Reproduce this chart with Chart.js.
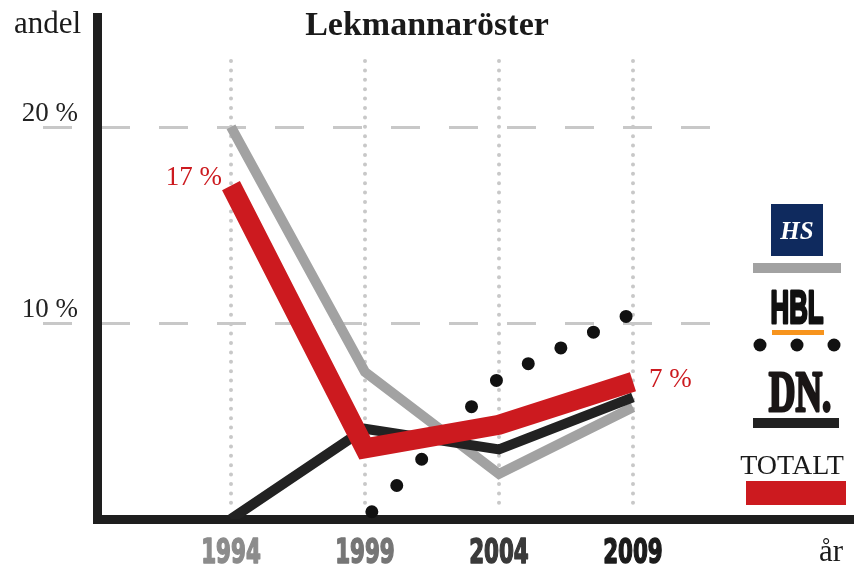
<!DOCTYPE html>
<html lang="sv">
<head>
<meta charset="UTF-8">
<title>Lekmannaröster</title>
<script src="https://cdn.jsdelivr.net/npm/chart.js@4.4.0/dist/chart.umd.min.js"></script>
<style>
    body { margin: 0; background: #fff; }
    #wrap { width: 854px; height: 569px; }
</style>
</head>
<body>
<div id="wrap"><canvas id="chart" width="854" height="569"></canvas></div>
<script>
    // data (andel in %)
    const years = [1994, 1999, 2004, 2009];
    const hsValues = [20, 7.5, 2.3, 5.7];
    const dnValues = [0, 4.6, 3.55, 6.2];
    const totalValues = [17, 3.6, 4.8, 7];
    const hblYears = [1999, 2004, 2009];
    const hblValues = [0, 7.2, 10.5];
    const yTicks = [10, 20];
    const yearColors = ['#8c8c8c', '#767676', '#3a3a3a', '#1c1c1c'];

    const SERIF = '"Liberation Serif", "DejaVu Serif", serif';
    const NARROW = '"DejaVu Sans Condensed", "Liberation Sans", sans-serif';
    const RED = '#cc1a1f';

    const toPoints = (xs, ys) => xs.map((x, i) => ({ x: x, y: ys[i] }));

    // squeezed text, for the condensed newspaper-style lettering
    function narrowText(ctx, text, x, y, sx, font, stroke) {
        ctx.save();
        ctx.translate(x, y);
        ctx.scale(sx, 1);
        ctx.font = font;
        ctx.fillText(text, 0, 0);
        if (stroke) {
            ctx.lineWidth = stroke;
            ctx.strokeStyle = ctx.fillStyle;
            ctx.lineJoin = 'round';
            ctx.strokeText(text, 0, 0);
        }
        ctx.restore();
    }

    // dotted / dashed guide lines under everything
    const guides = {
        id: 'guides',
        beforeDraw(chart) {
            const ctx = chart.ctx, xs = chart.scales.x, ys = chart.scales.y;
            ctx.save();
            ctx.strokeStyle = '#c8c8c8';
            ctx.lineWidth = 3;
            ctx.setLineDash([29, 29]);
            yTicks.forEach(v => {
                const y = Math.round(ys.getPixelForValue(v)) + 0.5;
                ctx.beginPath();
                ctx.moveTo(43, y);
                ctx.lineTo(712, y);
                ctx.stroke();
            });
            ctx.lineWidth = 4;
            ctx.lineCap = 'round';
            ctx.setLineDash([0, 9.4]);
            years.forEach(yr => {
                const x = Math.round(xs.getPixelForValue(yr));
                ctx.beginPath();
                ctx.moveTo(x, 61);
                ctx.lineTo(x, chart.chartArea.bottom - 8);
                ctx.stroke();
            });
            ctx.restore();
        }
    };

    // title, axis words, year labels, value labels and the logo legend
    const texts = {
        id: 'texts',
        afterDraw(chart) {
            const ctx = chart.ctx, xs = chart.scales.x;
            ctx.save();
            ctx.fillStyle = '#1a1a1a';
            ctx.textBaseline = 'alphabetic';

            ctx.font = 'bold 34px ' + SERIF;
            ctx.textAlign = 'center';
            ctx.fillText('Lekmannaröster', 427, 35);

            ctx.font = '31px ' + SERIF;
            ctx.textAlign = 'left';
            ctx.fillText('andel', 14, 33);
            ctx.fillText('år', 819, 561);

            // year labels on the x axis
            ctx.textAlign = 'center';
            years.forEach((yr, i) => {
                ctx.fillStyle = yearColors[i];
                narrowText(ctx, String(yr), xs.getPixelForValue(yr), 563, 0.7, 'bold 34px ' + NARROW, 1.5);
            });

            const red = chart.getDatasetMeta(0).data;
            ctx.fillStyle = RED;
            ctx.font = '27px ' + SERIF;
            ctx.textAlign = 'right';
            ctx.fillText(totalValues[0] + ' %', red[0].x - 9, red[0].y - 1);
            ctx.textAlign = 'left';
            ctx.fillText(totalValues[3] + ' %', red[3].x + 16, red[3].y + 5);

            // HS
            ctx.textAlign = 'center';
            ctx.fillStyle = '#0f2a5e';
            ctx.fillRect(771, 204, 52, 52);
            ctx.fillStyle = '#ffffff';
            ctx.font = 'italic bold 25px ' + SERIF;
            ctx.fillText('HS', 797, 239);
            ctx.fillStyle = '#a2a2a2';
            ctx.fillRect(753, 263, 88, 10);

            // HBL
            ctx.fillStyle = '#111111';
            narrowText(ctx, 'HBL', 797, 323, 0.56, 'bold 46px "Liberation Sans", sans-serif', 3);
            ctx.fillStyle = '#f7941d';
            ctx.fillRect(772, 330, 52, 5);
            ctx.fillStyle = '#111111';
            [760, 797, 834].forEach(x => {
                ctx.beginPath();
                ctx.arc(x, 345, 6.5, 0, Math.PI * 2);
                ctx.fill();
            });

            // DN
            ctx.fillStyle = '#1a1616';
            narrowText(ctx, 'DN.', 800, 411, 0.66, 'bold 56px ' + SERIF, 3);
            ctx.fillStyle = '#222222';
            ctx.fillRect(753, 418, 86, 10);

            // TOTALT
            ctx.fillStyle = '#1a1a1a';
            ctx.font = '28px ' + SERIF;
            ctx.fillText('TOTALT', 792, 474);
            ctx.fillStyle = RED;
            ctx.fillRect(746, 481, 100, 24);
            ctx.restore();
        }
    };

    const lineStyle = { fill: false, tension: 0, pointRadius: 0, borderCapStyle: 'butt', borderJoinStyle: 'miter' };

    new Chart(document.getElementById('chart'), {
        type: 'line',
        data: {
            datasets: [
                Object.assign({ label: 'TOTALT', data: toPoints(years, totalValues), borderColor: RED, borderWidth: 20 }, lineStyle),
                Object.assign({}, lineStyle, {
                    label: 'HBL', data: toPoints(hblYears, hblValues), borderColor: '#111111', borderWidth: 13,
                    borderDash: [0, 36.2], borderDashOffset: 26.2, borderCapStyle: 'round'
                }),
                Object.assign({ label: 'DN', data: toPoints(years, dnValues), borderColor: '#222222', borderWidth: 10 }, lineStyle),
                Object.assign({ label: 'HS', data: toPoints(years, hsValues), borderColor: '#a2a2a2', borderWidth: 10 }, lineStyle)
            ]
        },
        options: {
            responsive: false,
            animation: false,
            devicePixelRatio: 1,
            layout: { padding: { top: 17, right: 0, left: 0, bottom: 0 } },
            plugins: { legend: { display: false }, tooltip: { enabled: false }, title: { display: false } },
            scales: {
                x: {
                    type: 'linear',
                    min: 1989,
                    max: 2017.25,
                    grid: { display: false, drawTicks: false },
                    border: { color: '#1e1e1e', width: 9 },
                    afterBuildTicks: s => { s.ticks = years.map(v => ({ value: v })); },
                    afterFit: s => { s.height = 50; s.paddingLeft = 0; s.paddingRight = 0; },
                    ticks: { display: false }
                },
                y: {
                    min: 0,
                    max: 25.6,
                    grid: { display: false, drawTicks: false },
                    border: { color: '#1e1e1e', width: 9 },
                    afterBuildTicks: s => { s.ticks = yTicks.map(v => ({ value: v })); },
                    afterFit: s => { s.width = 97; s.paddingTop = 0; s.paddingBottom = 0; },
                    ticks: {
                        padding: 19,
                        labelOffset: -13,
                        callback: v => v + ' %',
                        color: '#222222',
                        font: { family: SERIF, size: 27 }
                    }
                }
            }
        },
        plugins: [guides, texts]
    });
</script>
</body>
</html>
